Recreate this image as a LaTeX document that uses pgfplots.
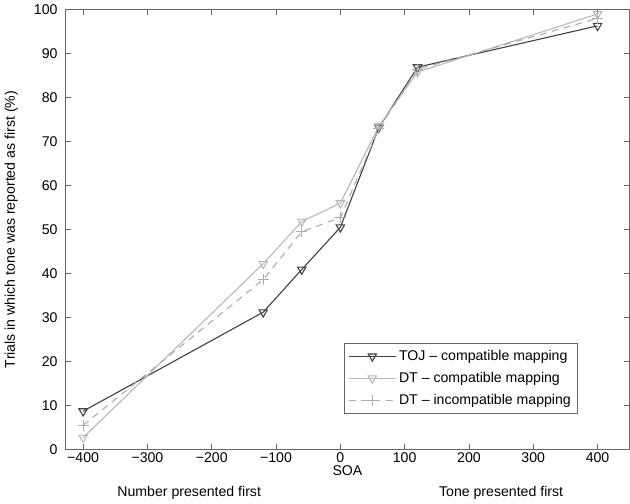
\documentclass[border=0pt]{standalone}
\usepackage{pgfplots}
\pgfplotsset{compat=1.18}
\usepackage{fontspec}
\setmainfont{Liberation Sans}
\definecolor{toj}{gray}{0.25}
\definecolor{dtc}{gray}{0.72}
\definecolor{dti}{gray}{0.68}
\begin{document}
\begin{tikzpicture}
\begin{axis}[
  scale only axis,
  width=412pt, height=321pt,
  xmin=-428, xmax=450, ymin=0, ymax=100,
  xtick={-400,-300,...,400}, ytick={0,10,...,100},
  xticklabels={−400,−300,−200,−100,0,100,200,300,400},
  tick align=inside, tick pos=both,
  major tick length=4pt,
  axis line style={gray!80!black},
  tick style={gray!80!black, thin},
  every tick label/.append style={font=\fontsize{10.3}{12}\selectfont},
  yticklabel style={xshift=-2pt},
  xticklabel style={yshift=1pt},
  /pgf/number format/assume math mode=true,
  xlabel={SOA}, ylabel={Trials in which tone was reported as first (\%)},
  label style={font=\fontsize{10.3}{12}\selectfont},
  xlabel style={yshift=5pt},
  ylabel style={yshift=5pt},
  legend style={at={(0.494,0.082)}, anchor=south west, draw=gray!80!black,
    font=\fontsize{10.3}{12}\selectfont, row sep=3pt, inner sep=3pt},
  legend cell align=left,
  legend image code/.code={\draw[mark repeat=2,mark phase=2] plot coordinates {(0cm,0cm) (0.6cm,0cm) (1.2cm,0cm)};},
  clip=false,
]
\addplot[toj, thick, mark=triangle, mark options={rotate=180, solid, thick}, mark size=3.5pt]
  coordinates {(-400,8.7) (-120,31.2) (-60,40.9) (0,50.5) (60,73.2) (120,86.9) (400,96.3)};
\addlegendentry{TOJ -- compatible mapping}
\addplot[dtc, thick, mark=triangle, mark options={rotate=180, solid, thick}, mark size=3.5pt]
  coordinates {(-400,2.7) (-120,42.2) (-60,51.8) (0,56) (60,73.5) (120,85.8) (400,99.0)};
\addlegendentry{DT -- compatible mapping}
\addplot[dti, thick, dash pattern=on 5pt off 4pt, mark=+, mark options={solid, thick}, mark size=4pt]
  coordinates {(-400,5.5) (-120,38.6) (-60,49.5) (0,52.7) (60,73) (120,86.4) (400,98)};
\addlegendentry{DT -- incompatible mapping}
\node[font=\fontsize{10.3}{12}\selectfont, anchor=base] at (axis cs:-235,0) [yshift=-34pt] {Number presented first};
\node[font=\fontsize{10.3}{12}\selectfont, anchor=base] at (axis cs:250,0) [yshift=-34pt] {Tone presented first};
\end{axis}
\end{tikzpicture}
\end{document}
